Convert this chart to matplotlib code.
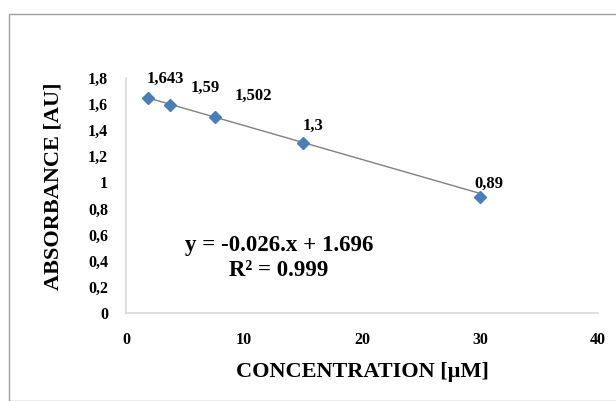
import matplotlib
matplotlib.use("Agg")
import matplotlib.pyplot as plt
from matplotlib.patches import Rectangle
import numpy as np

conc = [1.875, 3.75, 7.5, 15, 30]
absorb = [1.643, 1.59, 1.502, 1.3, 0.89]
labels = ["1,643", "1,59", "1,502", "1,3", "0,89"]
slope, intercept = -0.026, 1.696
xticks = [0, 10, 20, 30, 40]
yticks = [0, 0.2, 0.4, 0.6, 0.8, 1.0, 1.2, 1.4, 1.6, 1.8]
ytick_labels = ["0", "0,2", "0,4", "0,6", "0,8", "1", "1,2", "1,4", "1,6", "1,8"]

plt.rcParams['font.family'] = ['Liberation Serif', 'DejaVu Serif']
plt.rcParams['font.weight'] = 'bold'

W, H = 616, 401
fig = plt.figure(figsize=(W/100, H/100), dpi=100)
fig.patches.append(Rectangle((8.5/W, 0), 1.2, (H-13.5)/H, transform=fig.transFigure,
                             fill=False, edgecolor='#a0a0a0', linewidth=1.0))

ax = fig.add_axes([126/W, 1-313/H, (598-126)/W, (313-78)/H])
ax.set_xlim(0, 40)
ax.set_ylim(0, 1.8)

xs = np.array([conc[0], conc[-1]])
ax.plot(xs, slope*xs + intercept, color='#808080', linewidth=1.0, zorder=2)
ax.plot(conc, absorb, linestyle='none', marker='D', markersize=6, color='#4a7ebb', zorder=3)

offsets = [(-2, 20), (20, 18), (20, 21), (0, 17), (-6, 13)]
for x, y, t, (dx, dy) in zip(conc, absorb, labels, offsets):
    ax.annotate(t, (x, y), xytext=(dx, dy), textcoords='offset pixels',
                ha='left', va='center', fontsize=12, fontweight='bold')

ax.text(279/W, 1-245/H, "y = -0.026.x + 1.696", transform=fig.transFigure, ha='center', va='center',
        fontsize=16.5, fontweight='bold')
ax.text(279/W, 1-270/H, "R² = 0.999", transform=fig.transFigure, ha='center', va='center',
        fontsize=16.5, fontweight='bold')

ax.set_xticks(xticks)
ax.set_xticklabels([str(v) for v in xticks])
ax.set_yticks(yticks)
ax.set_yticklabels(ytick_labels)
ax.tick_params(axis='both', length=0, labelsize=11.5)
ax.tick_params(axis='x', pad=14)
ax.tick_params(axis='y', pad=13)
for lab in ax.get_xticklabels() + ax.get_yticklabels():
    lab.set_fontweight('bold')

for s in ['top', 'right']:
    ax.spines[s].set_visible(False)
for s in ['left', 'bottom']:
    ax.spines[s].set_color('#d9d9d9')
    ax.spines[s].set_linewidth(1.2)

ax.set_xlabel("CONCENTRATION [µM]", fontsize=16, fontweight='bold')
ax.set_ylabel("ABSORBANCE [AU]", fontsize=16, fontweight='bold')
ax.xaxis.set_label_coords(0.5, -(372 - 313) / 235)
ax.xaxis.label.set_verticalalignment('center')
ax.yaxis.set_label_coords((53 - 126) / 472, (313 - 186) / 235)
ax.yaxis.label.set_verticalalignment('center')

fig.savefig("out.png", dpi=100)
